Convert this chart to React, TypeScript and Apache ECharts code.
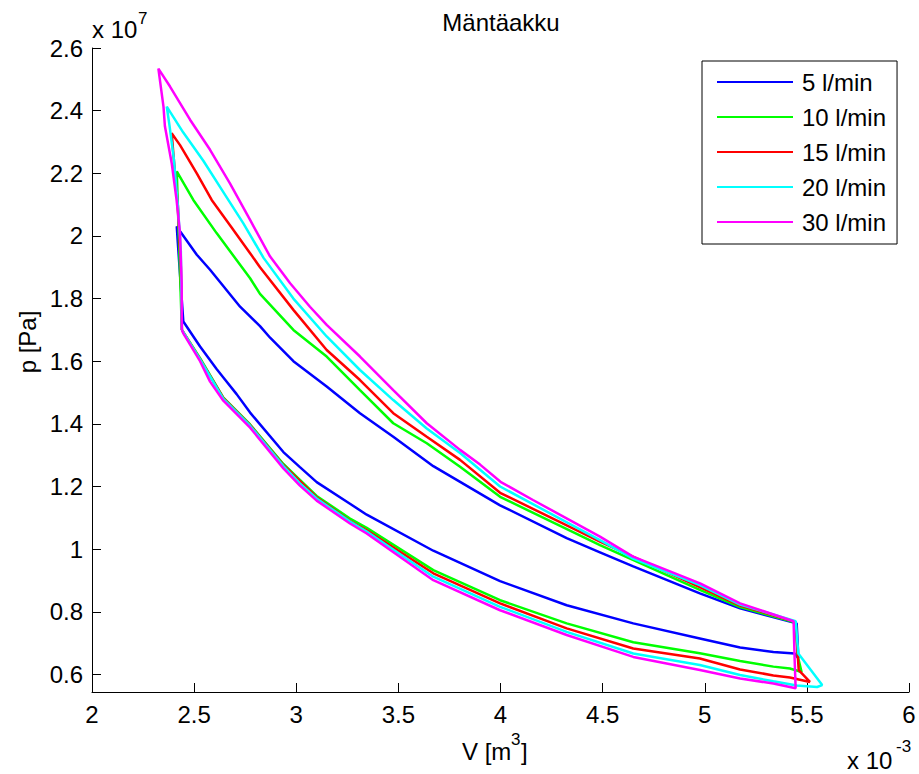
import React, { useEffect, useRef } from "react";
import * as echarts from "echarts";

const FONT = '"Liberation Sans", Arial, Helvetica, sans-serif';

// Legend names and MATLAB-style line colours
const seriesNames = ["5 l/min", "10 l/min", "15 l/min", "20 l/min", "30 l/min"];
const seriesColors = ["#0000ff", "#00ff00", "#ff0000", "#00ffff", "#ff00ff"];

// Axis ticks (V in 1e-3 m^3, p in 1e7 Pa)
const xTicks = [2, 2.5, 3, 3.5, 4, 4.5, 5, 5.5, 6];
const yTicks = [0.6, 0.8, 1, 1.2, 1.4, 1.6, 1.8, 2, 2.2, 2.4, 2.6];

// 5 l/min loop: lower branch, right edge, upper branch, left edge
const v5 = [2.447, 2.529, 2.61, 2.643, 2.708, 2.774, 2.937, 3.018, 3.1, 3.263, 3.345, 3.671, 3.998, 4.324, 4.65, 4.976, 5.173, 5.336, 5.44, 5.458,
  5.455, 5.45,
  5.173, 4.976, 4.65, 4.487, 4.324, 3.998, 3.671, 3.475, 3.312, 3.149, 2.986, 2.872, 2.8225, 2.725, 2.578, 2.513, 2.431, 2.415,
  2.42, 2.447];
const p5 = [1.727, 1.647, 1.575, 1.548, 1.495, 1.436, 1.31, 1.262, 1.214, 1.145, 1.11, 0.995, 0.898, 0.821, 0.763, 0.715, 0.686, 0.672, 0.667, 0.652,
  0.7, 0.763,
  0.811, 0.859, 0.945, 0.99, 1.035, 1.14, 1.265, 1.359, 1.434, 1.519, 1.6, 1.675, 1.712, 1.774, 1.892, 1.94, 2.015, 2.03,
  1.98, 1.727];

// 10 l/min loop
const v10 = [2.44, 2.529, 2.643, 2.774, 2.937, 3.018, 3.1, 3.263, 3.345, 3.671, 3.998, 4.324, 4.65, 4.976, 5.173, 5.336, 5.417, 5.474,
  5.455, 5.445,
  5.173, 4.976, 4.487, 3.998, 3.802, 3.639, 3.475, 3.312, 3.149, 2.986, 2.8225, 2.774, 2.61, 2.496, 2.415,
  2.425, 2.44];
const p10 = [1.7, 1.61, 1.484, 1.398, 1.272, 1.221, 1.17, 1.098, 1.068, 0.933, 0.837, 0.763, 0.703, 0.668, 0.643, 0.625, 0.619, 0.608,
  0.66, 0.766,
  0.815, 0.87, 1.013, 1.167, 1.263, 1.338, 1.402, 1.508, 1.615, 1.7, 1.815, 1.865, 2.009, 2.115, 2.206,
  2.0, 1.7];

// 15 l/min loop
const v15 = [2.44, 2.529, 2.643, 2.774, 2.937, 3.1, 3.263, 3.345, 3.671, 3.998, 4.324, 4.65, 4.976, 5.173, 5.336, 5.417, 5.515,
  5.46, 5.445,
  5.173, 4.976, 4.487, 3.998, 3.802, 3.639, 3.475, 3.312, 3.149, 2.986, 2.8225, 2.774, 2.68, 2.586, 2.513, 2.431, 2.39,
  2.4, 2.42, 2.435, 2.44];
const p15 = [1.7, 1.607, 1.482, 1.396, 1.268, 1.165, 1.09, 1.06, 0.923, 0.827, 0.747, 0.683, 0.651, 0.616, 0.597, 0.59, 0.576,
  0.614, 0.768,
  0.82, 0.879, 1.024, 1.18, 1.285, 1.359, 1.434, 1.54, 1.636, 1.764, 1.9, 1.945, 2.03, 2.115, 2.2, 2.29, 2.328,
  2.25, 2.1, 1.9, 1.7];

// 20 l/min loop
const v20 = [2.44, 2.529, 2.643, 2.774, 2.937, 3.018, 3.1, 3.263, 3.345, 3.671, 3.998, 4.324, 4.65, 4.976, 5.173, 5.336, 5.45, 5.55, 5.575,
  5.458, 5.445,
  5.173, 4.976, 4.65, 4.487, 3.998, 3.802, 3.639, 3.475, 3.312, 3.149, 2.986, 2.84, 2.741, 2.643, 2.545, 2.447, 2.366,
  2.38, 2.4, 2.42, 2.435, 2.44];
const p20 = [1.7, 1.606, 1.48, 1.394, 1.265, 1.21, 1.162, 1.088, 1.056, 0.912, 0.816, 0.736, 0.667, 0.63, 0.598, 0.578, 0.565, 0.56, 0.566,
  0.667, 0.77,
  0.823, 0.885, 0.97, 1.029, 1.2, 1.307, 1.385, 1.476, 1.572, 1.679, 1.8, 1.93, 2.04, 2.14, 2.24, 2.33, 2.413,
  2.35, 2.25, 2.1, 1.95, 1.7];

// 30 l/min loop
const v30 = [2.44, 2.447, 2.529, 2.578, 2.643, 2.774, 2.937, 3.018, 3.1, 3.263, 3.345, 3.671, 3.998, 4.324, 4.65, 4.976, 5.173, 5.336, 5.445,
  5.44, 5.435,
  5.173, 4.977, 4.649, 4.487, 4.159, 4.0, 3.9, 3.802, 3.639, 3.475, 3.312, 3.149, 3.067, 2.97, 2.872, 2.774, 2.676, 2.578, 2.48, 2.382, 2.325,
  2.35, 2.357, 2.39, 2.414, 2.431, 2.439, 2.44];
const p30 = [1.7, 1.689, 1.6, 1.535, 1.474, 1.388, 1.258, 1.203, 1.155, 1.082, 1.05, 0.901, 0.805, 0.726, 0.656, 0.614, 0.587, 0.571, 0.556,
  0.65, 0.77,
  0.827, 0.891, 0.976, 1.04, 1.157, 1.215, 1.27, 1.317, 1.402, 1.508, 1.615, 1.716, 1.774, 1.849, 1.934, 2.051, 2.167, 2.275, 2.371, 2.477, 2.534,
  2.413, 2.35, 2.233, 2.115, 2.009, 1.85, 1.7];

const volumes = [v5, v10, v15, v20, v30];
const pressures = [p5, p10, p15, p20, p30];

const zip = (xs: number[], ys: number[]) => xs.map((x, i) => [x, ys[i]]);

const txt = (x: number, y: number, text: string, size: number, align: string, extra: any = {}) => ({
  type: "text",
  x,
  y,
  silent: true,
  ...extra,
  style: {
    text,
    fill: "#000",
    font: `${size}px ${FONT}`,
    fontSize: size,
    fontFamily: FONT,
    align,
    textAlign: align,
    verticalAlign: "middle",
    textVerticalAlign: "middle",
  },
});

export default function App() {
  const ref = useRef<HTMLDivElement>(null);

  useEffect(() => {
    if (!ref.current) return;
    const chart = echarts.init(ref.current, undefined, { renderer: "svg" });

    const axisCommon = {
      type: "value" as const,
      axisLine: { show: true, onZero: false, lineStyle: { color: "#000", width: 1 } },
      axisTick: { show: true, inside: true, length: 9, lineStyle: { color: "#000", width: 1 } },
      splitLine: { show: false },
    };

    chart.setOption({
      animation: false,
      backgroundColor: "#fff",
      grid: { left: 92, right: 10, top: 48, bottom: 82, containLabel: false },
      xAxis: {
        ...axisCommon,
        min: 2,
        max: 6,
        interval: 0.5,
        axisTick: { ...axisCommon.axisTick, customValues: xTicks },
        axisLabel: {
          customValues: xTicks,
          color: "#000",
          fontSize: 24,
          fontFamily: FONT,
          margin: 10,
        },
      },
      yAxis: {
        ...axisCommon,
        min: 0.544,
        max: 2.6,
        axisTick: { ...axisCommon.axisTick, customValues: yTicks },
        axisLabel: {
          customValues: yTicks,
          color: "#000",
          fontSize: 24,
          fontFamily: FONT,
          margin: 9,
        },
      },
      legend: {
        data: seriesNames.map((name) => ({ name, icon: "rect" })),
        orient: "vertical",
        left: 702,
        top: 61,
        padding: [9, 11, 10, 15],
        itemWidth: 76,
        itemHeight: 2,
        itemGap: 11,
        borderColor: "#000",
        borderWidth: 1,
        borderRadius: 0,
        backgroundColor: "#fff",
        textStyle: {
          color: "#000",
          fontSize: 24,
          fontFamily: FONT,
          lineHeight: 24,
          padding: [0, 0, 0, 4],
        },
      },
      series: seriesNames.map((name, i) => ({
        name,
        type: "line",
        data: zip(volumes[i], pressures[i]),
        showSymbol: false,
        symbol: "none",
        silent: true,
        lineStyle: { color: seriesColors[i], width: 2.5 },
        itemStyle: { color: seriesColors[i] },
      })),
      graphic: [
        txt(501, 22, "Mäntäakku", 24, "center"),
        txt(92, 29, "x 10", 24, "left"),
        txt(138, 18, "7", 17, "left"),
        txt(27, 342, "p [Pa]", 24, "center", { rotation: Math.PI / 2 }),
        txt(462, 751, "V [m", 24, "left"),
        txt(511, 739, "3", 17, "left"),
        txt(521, 751, "]", 24, "left"),
        txt(847, 760, "x 10", 24, "left"),
        txt(896, 746, "-3", 17, "left"),
      ],
    });

    return () => chart.dispose();
  }, []);

  return (
    <div
      ref={ref}
      style={{ position: "absolute", left: 0, top: 0, width: 919, height: 774, background: "#fff" }}
    />
  );
}
